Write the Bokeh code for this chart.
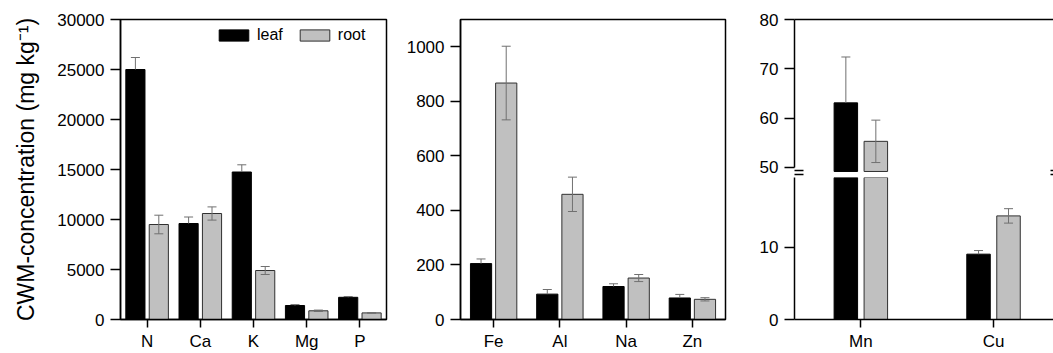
from bokeh.plotting import figure
from bokeh.layouts import row, column
from bokeh.models import (ColumnDataSource, FactorRange, Range1d, Whisker, TeeHead,
                          Legend, LegendItem, FixedTicker, LinearAxis)
from bokeh.transform import dodge
from bokeh.embed import file_html
from bokeh.resources import INLINE

# ---------------- data ----------------
macro = ["N", "Ca", "K", "Mg", "P"]
macro_leaf = [25000, 9600, 14750, 1400, 2220]
macro_leaf_err = [1200, 650, 720, 90, 80]
macro_root = [9500, 10600, 4900, 870, 660]
macro_root_err = [930, 660, 400, 70, 40]
macro_ticks = [0, 5000, 10000, 15000, 20000, 25000, 30000]

micro = ["Fe", "Al", "Na", "Zn"]
micro_leaf = [205, 93, 121, 79]
micro_leaf_err = [17, 17, 10, 13]
micro_root = [867, 459, 152, 74]
micro_root_err = [135, 63, 13, 6]
micro_ticks = [0, 200, 400, 600, 800, 1000]

trace = ["Mn", "Cu"]
trace_leaf = [63.1, 9.05]
trace_leaf_err = [9.3, 0.5]
trace_root = [55.3, 14.35]
trace_root_err = [4.3, 1.0]
trace_ticks_low = [0, 10]
trace_ticks_high = [50, 60, 70, 80]
trace_break_low = 19.67
trace_break_high = 50

# layout constants of the broken axis (upper segment, in its own units)
UP_START = 47.97        # frame bottom of the upper segment (10 px below 50)
UP_BAR_CUT = 49.19      # bars of the upper segment stop 4 px below 50
BREAK_MARKS = [49.49, 48.48]  # two short break strokes
X3_END = 1.952

# ---------------- style ----------------
FONT = "Liberation Sans"
TICK_FS = "17px"
LEAF = "black"
ROOT = "#c0c0c0"
EDGE = "#303030"
ERR = "#707070"
AXW = 1.5


def make_source(cats, leaf, leaf_err, root, root_err):
    return ColumnDataSource(dict(
        cat=list(cats),
        leaf=list(leaf),
        leaf_hi=[v + e for v, e in zip(leaf, leaf_err)],
        root=list(root),
        root_lo=[v - e for v, e in zip(root, root_err)],
        root_hi=[v + e for v, e in zip(root, root_err)],
    ))


def style(p):
    p.xgrid.visible = False
    p.ygrid.visible = False
    p.background_fill_color = "white"
    p.border_fill_color = "white"
    for ax in p.yaxis:
        ax.axis_line_width = AXW
        ax.axis_line_color = "black"
        ax.major_tick_line_width = AXW
        ax.major_tick_out = 10
        ax.major_tick_in = 0
        ax.minor_tick_line_color = None
        ax.major_label_text_font = FONT
        ax.major_label_text_font_size = TICK_FS
        ax.major_label_text_color = "black"
        ax.major_label_standoff = 6
    for ax in p.xaxis:
        ax.axis_line_width = AXW
        ax.axis_line_color = "black"
        ax.major_tick_line_width = AXW
        ax.major_tick_out = 8
        ax.major_tick_in = 0
        ax.minor_tick_line_color = None
        ax.major_label_text_font = FONT
        ax.major_label_text_font_size = TICK_FS
        ax.major_label_text_color = "black"
        ax.major_label_standoff = 4


def whiskers(p, src, xl, xrt, head=9):
    p.add_layout(Whisker(base=xl, upper="leaf_hi", lower="leaf", source=src,
                         line_color=ERR, line_width=1, level="annotation",
                         upper_head=TeeHead(size=head, line_color=ERR, line_width=1),
                         lower_head=None))
    p.add_layout(Whisker(base=xrt, upper="root_hi", lower="root_lo", source=src,
                         line_color=ERR, line_width=1, level="annotation",
                         upper_head=TeeHead(size=head, line_color=ERR, line_width=1),
                         lower_head=TeeHead(size=head, line_color=ERR, line_width=1)))


def add_bars(p, src, xr, off_l, off_r, w):
    xl = dodge("cat", off_l, range=xr)
    xrt = dodge("cat", off_r, range=xr)
    r1 = p.vbar(x=xl, top="leaf", width=w, source=src,
                fill_color=LEAF, line_color=LEAF, line_width=1)
    r2 = p.vbar(x=xrt, top="root", width=w, source=src,
                fill_color=ROOT, line_color=EDGE, line_width=1)
    whiskers(p, src, xl, xrt)
    return r1, r2


# ---------------- panel 1 ----------------
src1 = make_source(macro, macro_leaf, macro_leaf_err, macro_root, macro_root_err)
p1 = figure(x_range=FactorRange(factors=macro), y_range=Range1d(0, 30000),
            width=391, height=353, min_border_left=120, min_border_right=5,
            min_border_top=19, min_border_bottom=31,
            output_backend="svg", toolbar_location=None)
r_leaf, r_root = add_bars(p1, src1, p1.x_range, -0.22, 0.22, 0.36)
style(p1)
p1.yaxis.ticker = FixedTicker(ticks=macro_ticks)
p1.yaxis.axis_label = "CWM-concentration (mg kg\u207B\u00B9)"
p1.yaxis.axis_label_text_font = FONT
p1.yaxis.axis_label_text_font_size = "23px"
p1.yaxis.axis_label_text_font_style = "normal"
p1.yaxis.axis_label_text_color = "black"
p1.yaxis.axis_label_standoff = 15
p1.outline_line_color = "black"
p1.outline_line_width = AXW

legend = Legend(items=[LegendItem(label="leaf", renderers=[r_leaf]),
                       LegendItem(label="root", renderers=[r_root])],
                orientation="horizontal", location=(95, 275),
                glyph_width=37, glyph_height=14, label_height=14,
                label_standoff=5, spacing=13, padding=0, margin=0,
                border_line_color=None, background_fill_alpha=0,
                label_text_font=FONT, label_text_font_size="16px",
                label_text_color="black")
p1.add_layout(legend)

# ---------------- panel 2 ----------------
src2 = make_source(micro, micro_leaf, micro_leaf_err, micro_root, micro_root_err)
p2 = figure(x_range=FactorRange(factors=micro), y_range=Range1d(0, 1100),
            width=339, height=353, min_border_left=69, min_border_right=5,
            min_border_top=19, min_border_bottom=31,
            output_backend="svg", toolbar_location=None)
add_bars(p2, src2, p2.x_range, -0.19, 0.19, 0.32)
style(p2)
p2.yaxis.ticker = FixedTicker(ticks=micro_ticks)
p2.outline_line_color = "black"
p2.outline_line_width = AXW

# ---------------- panel 3 (broken axis) ----------------
trace_x = [i + 0.5 for i in range(len(trace))]
xr3 = Range1d(0, X3_END)


def trace_source(keep):
    idx = [i for i in range(len(trace)) if keep(i)]
    return ColumnDataSource(dict(
        x=[trace_x[i] for i in idx],
        leaf=[trace_leaf[i] for i in idx],
        leaf_hi=[trace_leaf[i] + trace_leaf_err[i] for i in idx],
        root=[trace_root[i] for i in idx],
        root_lo=[trace_root[i] - trace_root_err[i] for i in idx],
        root_hi=[trace_root[i] + trace_root_err[i] for i in idx],
    ))


src3_all = trace_source(lambda i: True)
src3_hi = trace_source(lambda i: max(trace_leaf[i], trace_root[i]) > trace_break_high)
src3_lo = trace_source(lambda i: max(trace_leaf[i], trace_root[i]) <= trace_break_low)


def trace_bars(p, bsrc, wsrc, bottom):
    xl = dodge("x", -0.113)
    xrt = dodge("x", 0.113)
    p.vbar(x=xl, top="leaf", bottom=bottom, width=0.177, source=bsrc,
           fill_color=LEAF, line_color=LEAF, line_width=1)
    p.vbar(x=xrt, top="root", bottom=bottom, width=0.177, source=bsrc,
           fill_color=ROOT, line_color=EDGE, line_width=1)
    whiskers(p, wsrc, xl, xrt)


p3a = figure(x_range=xr3, y_range=Range1d(UP_START, 80),
             width=323, height=177, min_border_left=64, min_border_right=0,
             min_border_top=19, min_border_bottom=0, x_axis_location="above",
             output_backend="svg", toolbar_location=None)
trace_bars(p3a, src3_hi, src3_hi, UP_BAR_CUT)
style(p3a)
p3a.yaxis.ticker = FixedTicker(ticks=trace_ticks_high)
p3a.yaxis.bounds = (trace_break_high, 80)
p3a.xaxis.ticker = FixedTicker(ticks=[])
p3a.xaxis.major_tick_line_color = None
p3a.xaxis.major_label_text_font_size = "0px"
p3a.xaxis.major_label_standoff = 0
p3a.outline_line_color = None

# axis-break strokes, drawn as tick marks of two extra axes
for loc, t_in, t_out in ((0, 9, 9), (X3_END, 0, 3)):
    brk = LinearAxis(fixed_location=loc, ticker=FixedTicker(ticks=BREAK_MARKS),
                     axis_line_color=None, major_tick_in=t_in, major_tick_out=t_out,
                     major_tick_line_width=1.5, major_tick_line_color="black",
                     minor_tick_line_color=None, major_label_text_font_size="0px",
                     major_label_overrides={v: "" for v in BREAK_MARKS})
    p3a.add_layout(brk, "left")

p3b = figure(x_range=xr3, y_range=Range1d(0, trace_break_low),
             width=323, height=176, min_border_left=64, min_border_right=0,
             min_border_top=0, min_border_bottom=31,
             output_backend="svg", toolbar_location=None)
trace_bars(p3b, src3_all, src3_lo, 0)
style(p3b)
p3b.yaxis.ticker = FixedTicker(ticks=trace_ticks_low)
p3b.xaxis.ticker = FixedTicker(ticks=trace_x)
p3b.xaxis.major_label_overrides = {x: c for x, c in zip(trace_x, trace)}
p3b.outline_line_color = None

layout = row(p1, p2, column(p3a, p3b))
open("out.html", "w").write(file_html(layout, INLINE))
